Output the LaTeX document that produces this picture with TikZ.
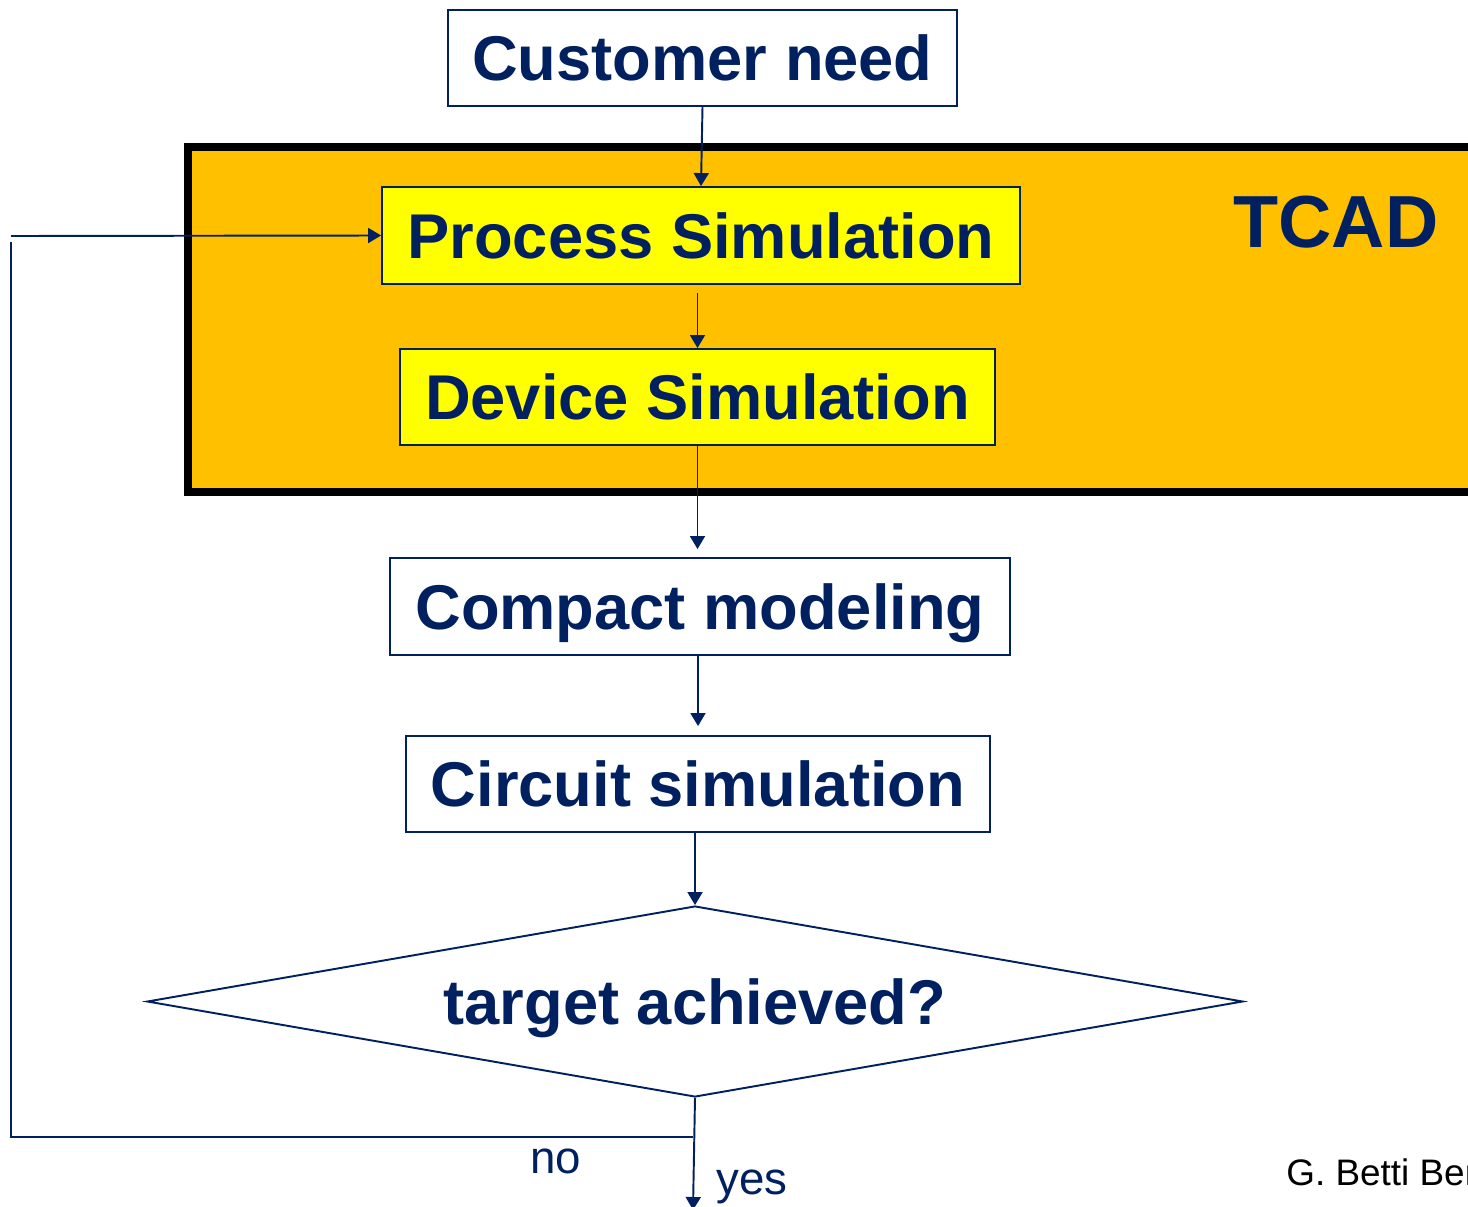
\documentclass[tikz,border=0pt]{standalone}
\usepackage{fontspec}
\setmainfont{Liberation Sans}
\usetikzlibrary{arrows.meta,shapes.geometric}
\definecolor{navy}{HTML}{002060}
\definecolor{tcadorange}{HTML}{FFC000}
\definecolor{simyellow}{HTML}{FFFF00}
\tikzset{
  flowbox/.style={draw=navy, line width=1.1pt, inner sep=0pt, text=navy,
    text height=26pt, text depth=0pt,
    font=\fontsize{36}{43}\selectfont\bfseries},
  simbox/.style={flowbox, fill=simyellow},
  link/.style={draw=navy, line width=1.1pt, -{Triangle[length=0.26cm,width=0.3cm]}},
  wire/.style={draw=navy, line width=1.1pt}
}
\begin{document}
\begin{tikzpicture}[x=0.02cm,y=-0.02cm]
        % Canvas of the slide
        \useasboundingbox (0,0) rectangle (1468,1207);
        \clip (0,0) rectangle (1468,1207);
        % TCAD frame
        \draw[black, line width=0.15cm, fill=tcadorange] (188,147) rectangle (1490,492);
        \node[text=navy, font=\fontsize{42}{50}\selectfont\bfseries] (tcad) at (1336,222) {TCAD};
        % Flow steps
        \node[flowbox, minimum width=10.18cm, minimum height=1.92cm] (need) at (702.5,58) {Customer need};
        \node[simbox, minimum width=12.76cm, minimum height=1.94cm] (proc) at (701,235.5) {Process Simulation};
        \node[simbox, minimum width=11.90cm, minimum height=1.92cm] (dev) at (697.5,397) {Device Simulation};
        \node[flowbox, minimum width=12.40cm, minimum height=1.94cm] (compact) at (700,606.5) {Compact modeling};
        \node[flowbox, minimum width=11.68cm, minimum height=1.92cm] (circuit) at (698,784) {Circuit simulation};
        \node[flowbox, diamond, aspect=5.74, minimum width=21.92cm, minimum height=3.82cm] (target) at (695,1001.5) {target achieved?};
        % Connectors
        \draw[link] (need.south) -- (proc.north);
        \draw[link, shorten <=0.16cm] (dev.north |- proc.south) -- (dev.north);
        \draw[link, shorten >=0.16cm] (dev.south) -- (dev.south |- compact.north);
        \draw[link, shorten >=0.18cm] (circuit.north |- compact.south) -- (circuit.north);
        \draw[link] (target.north |- circuit.south) -- (target.north);
        % Exit and feedback loop
        \coordinate (out) at (693,1210);
        \coordinate (jn) at (693,1137);
        \coordinate (fbl) at (11,1137);
        \coordinate (fbt) at (11,242);
        \coordinate (fb) at (11,236);
        \draw[link] (target.south) -- (out);
        \draw[wire] (jn) -- (fbl) -- (fbt);
        \draw[link] (fb) -- (proc.west);
        \node[text=navy, font=\fontsize{26}{31}\selectfont] (no) at (556,1161) {no};
        \node[text=navy, font=\fontsize{26}{31}\selectfont] (yes) at (752,1187) {yes};
        % Footer
        \node[anchor=west, inner sep=0pt, font=\fontsize{21}{25}\selectfont] (author) at (1286,1172) {G. Betti Ben};
    \end{tikzpicture}
\end{document}
